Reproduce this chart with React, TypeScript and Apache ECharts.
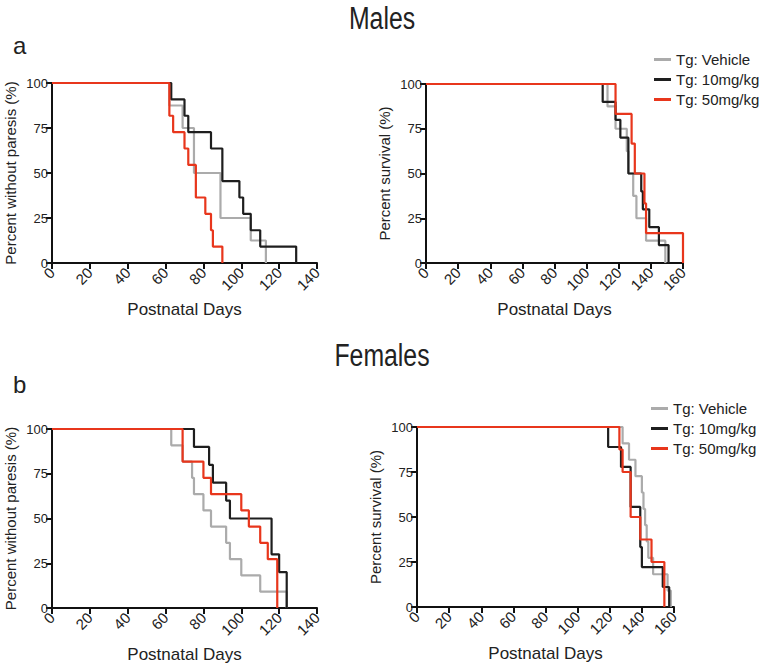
import React, { useEffect, useRef } from 'react';
import * as echarts from 'echarts';

const seriesNames = ['Tg: Vehicle', 'Tg: 10mg/kg', 'Tg: 50mg/kg'];
const seriesColors = ['#ababab', '#1e1e1e', '#e8361c'];

// Males — percent without paresis
const maleParesisVehicle = [[0, 100], [62, 87.5], [69, 75], [75, 50], [89, 25], [105, 12.5], [113, 0]];
const maleParesis10 = [[0, 100], [63, 90.9], [70, 81.8], [72, 72.7], [84, 63.6], [90, 45.5], [99, 36.4], [101, 27.3], [105, 18.2], [110, 9.1], [129, 0]];
const maleParesis50 = [[0, 100], [62, 81.8], [64, 72.7], [70, 63.6], [72, 54.5], [76, 36.4], [81, 27.3], [84, 18.2], [85, 9.1], [90, 0]];

// Males — survival
const maleSurvivalVehicle = [[0, 100], [113, 87.5], [118, 75], [125, 62.5], [126, 50], [129, 37.5], [131, 25], [137, 12.5], [149, 0]];
const maleSurvival10 = [[0, 100], [110, 90], [118, 80], [121, 70], [126, 50], [134, 40], [135, 30], [139, 20], [145, 10], [151, 0]];
const maleSurvival50 = [[0, 100], [118, 83.3], [128, 66.7], [130, 50], [136, 33.3], [137, 16.7], [160, 0]];

// Females — percent without paresis
const femaleParesisVehicle = [[0, 100], [63, 90.9], [69, 81.8], [74, 72.7], [75, 63.6], [80, 54.5], [84, 45.5], [92, 36.4], [94, 27.3], [100, 18.2], [110, 9.1], [124, 0]];
const femaleParesis10 = [[0, 100], [75, 90], [83, 80], [85, 70], [92, 60], [94, 50], [116, 30], [120, 20], [124, 0]];
const femaleParesis50 = [[0, 100], [69, 81.8], [80, 72.7], [84, 63.6], [100, 54.5], [104, 45.5], [110, 36.4], [114, 27.3], [119, 0]];

// Females — survival
const femaleSurvivalVehicle = [[0, 100], [128, 90.9], [132, 81.8], [136, 72.7], [140, 63.6], [141, 54.5], [142, 45.5], [143, 36.4], [144, 27.3], [147, 18.2], [156, 9.1], [158, 0]];
const femaleSurvival10 = [[0, 100], [119, 88.9], [127, 77.8], [133, 55.6], [139, 33.3], [140, 22.2], [153, 11.1], [157, 0]];
const femaleSurvival50 = [[0, 100], [126, 87.5], [128, 75], [133, 50], [139, 37.5], [146, 25], [154, 0]];

const paresisTicksMax = 140;
const survivalTicksMax = 160;
const xInterval = 20;
const yInterval = 25;

const yNames = ['Percent without paresis (%)', 'Percent survival (%)', 'Percent without paresis (%)', 'Percent survival (%)'];
const xName = 'Postnatal Days';

const FONT = '"Liberation Sans", Arial, Helvetica, sans-serif';

export default function App() {
  const ref = useRef<HTMLDivElement>(null);
  useEffect(() => {
    if (!ref.current) return;
    const chart = echarts.init(ref.current, undefined, { renderer: 'svg' });
    const grids = [
      { left: 52, top: 83, width: 265, height: 180 },
      { left: 426, top: 84, width: 257, height: 179 },
      { left: 52, top: 429, width: 265, height: 179 },
      { left: 417, top: 427, width: 257, height: 180 },
    ];
    const xMaxes = [paresisTicksMax, survivalTicksMax, paresisTicksMax, survivalTicksMax];
    const panelData = [
      [maleParesisVehicle, maleParesis10, maleParesis50],
      [maleSurvivalVehicle, maleSurvival10, maleSurvival50],
      [femaleParesisVehicle, femaleParesis10, femaleParesis50],
      [femaleSurvivalVehicle, femaleSurvival10, femaleSurvival50],
    ];
    const axisLine = { lineStyle: { color: '#111', width: 2 } };
    const axisTick = { length: 6, lineStyle: { color: '#111', width: 2 } };
    const xAxis = grids.map((_, i) => ({
      type: 'value',
      gridIndex: i,
      min: 0,
      max: xMaxes[i],
      interval: xInterval,
      splitLine: { show: false },
      axisLine,
      axisTick,
      axisLabel: { rotate: 45, fontSize: 15, color: '#222', fontFamily: FONT, margin: 7 },
      name: xName,
      nameLocation: 'middle',
      nameGap: 38,
      nameTextStyle: { fontSize: 17, color: '#222', fontFamily: FONT },
    }));
    const yAxis = grids.map((_, i) => ({
      type: 'value',
      gridIndex: i,
      min: 0,
      max: 100,
      interval: yInterval,
      splitLine: { show: false },
      axisLine,
      axisTick,
      axisLabel: { fontSize: 13, color: '#222', fontFamily: FONT, margin: 4 },
      name: yNames[i],
      nameLocation: 'middle',
      nameGap: 34,
      nameTextStyle: { fontSize: 15, color: '#222', fontFamily: FONT },
    }));
    const series: any[] = [];
    panelData.forEach((group, gi) => {
      group.forEach((d, si) => {
        series.push({
          type: 'line',
          name: seriesNames[si],
          xAxisIndex: gi,
          yAxisIndex: gi,
          data: d,
          step: 'end',
          showSymbol: false,
          symbol: 'none',
          lineStyle: { color: seriesColors[si], width: 2.2 },
          itemStyle: { color: seriesColors[si] },
          z: 2 + si,
        });
      });
    });
    const legendCommon = {
      orient: 'vertical',
      icon: 'rect',
      itemWidth: 17,
      itemHeight: 3,
      itemGap: 5,
      textStyle: { fontSize: 15, color: '#222', fontFamily: FONT },
      data: seriesNames,
      selectedMode: false,
    };
    const title = (text: string, y: number) => ({
      type: 'text',
      x: 382,
      y,
      scaleX: 0.8,
      style: { text, fontSize: 31, fill: '#222', fontFamily: FONT, textAlign: 'center', textVerticalAlign: 'middle' },
    });
    chart.setOption({
      animation: false,
      textStyle: { fontFamily: FONT },
      grid: grids,
      xAxis,
      yAxis,
      series,
      legend: [
        { ...legendCommon, left: 649, top: 47 },
        { ...legendCommon, left: 646, top: 396 },
      ],
      graphic: [
        title('Males', 19),
        title('Females', 356),
        { type: 'text', left: 13, top: 33, style: { text: 'a', fontSize: 24, fill: '#222', fontFamily: FONT } },
        { type: 'text', left: 13, top: 372, style: { text: 'b', fontSize: 24, fill: '#222', fontFamily: FONT } },
      ],
    });
    return () => chart.dispose();
  }, []);
  return <div ref={ref} style={{ position: 'fixed', left: 0, top: 0, width: 763, height: 669, background: '#fff' }} />;
}
